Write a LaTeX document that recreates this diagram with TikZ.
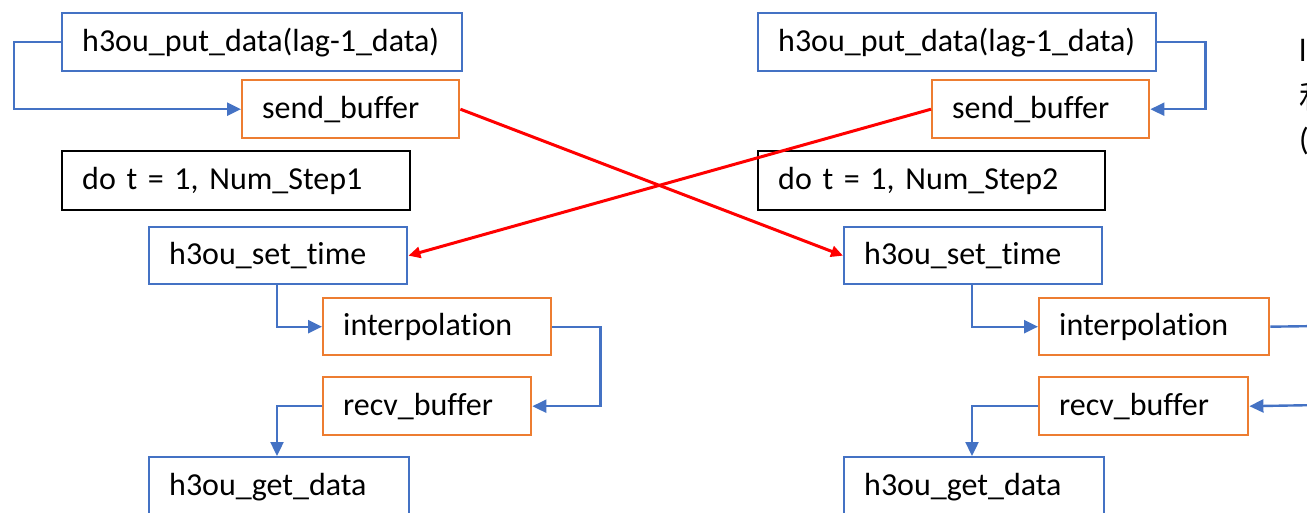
\documentclass[tikz,border=0pt]{standalone}
\usepackage{fontspec}
\setmainfont[Ligatures={NoCommon}]{Carlito}
\newfontfamily\cjk{Noto Sans CJK SC}
\usetikzlibrary{arrows.meta}
\definecolor{bblue}{HTML}{4472C4}
\definecolor{borange}{HTML}{ED7D31}
\definecolor{rred}{HTML}{FF0000}
\frenchspacing
\begin{document}
\begin{tikzpicture}[x=1pt,y=-1pt,
  boxbase/.style={draw, line width=2.4pt, anchor=north west, inner xsep=20pt, inner ysep=0pt,
    align=left, font=\fontsize{32}{38}\selectfont},
  bluebox/.style={boxbase, draw=bblue},
  orbox/.style={boxbase, draw=borange},
  blkbox/.style={boxbase, draw=black},
  flow/.style={draw=bblue, line width=2.4pt, -{Triangle[length=14pt,width=13pt]}},
  cross/.style={draw=rred, line width=3pt, -{Triangle[length=12pt,width=11pt]}},
  sidetext/.style={anchor=west, inner sep=0pt, font=\fontsize{32}{38}\selectfont}]
\useasboundingbox (0,0) rectangle (1307,513);
\clip (0,0) rectangle (1307,513);
\fill[white] (0,0) rectangle (1307,513);
% left column
\node[bluebox, text width=360pt, minimum height=58pt] (pd1) at (61,12) {h3ou\_put\_data(lag-1\_data)};
\node[orbox, text width=177pt, minimum height=58pt] (sb1) at (241,79) {send\_buffer};
\node[blkbox, text width=308pt, minimum height=59pt] (do1) at (61,150) {do t = 1, Num\_Step1};
\node[bluebox, text width=218pt, minimum height=57pt] (st1) at (148,226) {h3ou\_set\_time};
\node[orbox, text width=188pt, minimum height=57pt] (ip1) at (322,297) {interpolation};
\node[orbox, text width=168pt, minimum height=58pt] (rb1) at (322,376) {recv\_buffer};
\node[bluebox, text width=220pt, minimum height=60pt] (gd1) at (148,456) {h3ou\_get\_data};
% right column
\node[bluebox, text width=358pt, minimum height=58pt] (pd2) at (757,12) {h3ou\_put\_data(lag-1\_data)};
\node[orbox, text width=177pt, minimum height=58pt] (sb2) at (931,79) {send\_buffer};
\node[blkbox, text width=307pt, minimum height=59pt] (do2) at (757,150) {do t = 1, Num\_Step2};
\node[bluebox, text width=218pt, minimum height=57pt] (st2) at (843,226) {h3ou\_set\_time};
\node[orbox, text width=190pt, minimum height=57pt] (ip2) at (1038,297) {interpolation};
\node[orbox, text width=169pt, minimum height=58pt] (rb2) at (1038,376) {recv\_buffer};
\node[bluebox, text width=220pt, minimum height=60pt] (gd2) at (843,456) {h3ou\_get\_data};
% cut-off text at right edge
\node[sidetext] (r1) at (1299,50) {l};
\node[sidetext] (r2) at (1299,96) {\cjk 和};
\node[sidetext] (r3) at (1299,141) {(};
\coordinate (eo) at (1320,326);
\coordinate (ei) at (1320,405);
% left connectors
\draw[flow] (pd1.west) -- ([xshift=-47pt]pd1.west) |- (sb1.west);
\draw[flow] ([xshift=129pt]st1.south west) |- (ip1.west);
\draw[flow] (ip1.east) -- ([xshift=48pt]ip1.east) |- (rb1.east);
\draw[flow] (rb1.west) -| ([xshift=129pt]gd1.north west);
% right connectors
\draw[flow] (pd2.east) -- ([xshift=48pt]pd2.east) |- (sb2.east);
\draw[flow] ([xshift=129pt]st2.south west) |- (ip2.west);
\draw[draw=bblue, line width=2.4pt] (ip2.east) -- (eo);
\draw[flow] (ei) -- (rb2.east);
\draw[flow] (rb2.west) -| ([xshift=129pt]gd2.north west);
% crossing red arrows
\draw[cross] (sb1.east) -- (st2.west);
\draw[cross] (sb2.west) -- (st1.east);
\end{tikzpicture}
\end{document}
